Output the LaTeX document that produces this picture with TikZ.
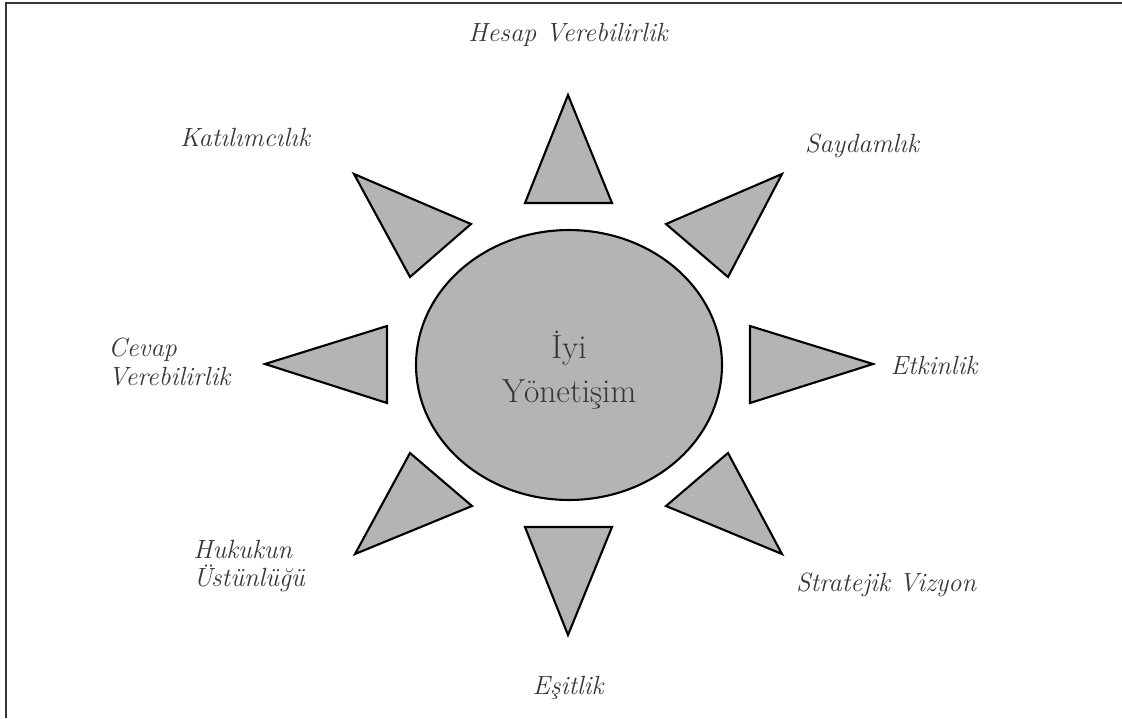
\documentclass[tikz,border=0pt]{standalone}
\usepackage{fontspec}
\usepackage{xcolor}
\usepackage{tikz}
\usetikzlibrary{shapes.geometric}
\definecolor{rayfill}{RGB}{180,180,180}
\definecolor{inkgray}{RGB}{55,55,55}
\tikzset{
  ray/.style={draw=black,fill=rayfill,line width=1.2pt,line join=miter},
  lbl/.style={text=inkgray,font=\fontsize{15}{16}\selectfont\itshape,inner sep=0pt},
  lblleft/.style={lbl,align=left,anchor=west}
}

\begin{document}
\begin{tikzpicture}[x=0.02cm,y=-0.02cm]
    \useasboundingbox(0,0)rectangle(1122,718);
    % frame
    \coordinate(tl)at(6,3);\coordinate(tr)at(1122,3);\coordinate(bl)at(6,718);
    \draw[inkgray,line width=1.1pt](tr)--(tl)--(bl);

    % centre
    \node[ellipse,draw=black,fill=rayfill,line width=1.2pt,minimum width=6.12cm,minimum height=5.4cm,inner sep=0pt](sun)at(569,365){};
    \node[text=inkgray,font=\fontsize{19}{25}\selectfont,align=center](name)at(569,370){İyi\\Yönetişim};

    % rays
    \draw[ray](568,95)--(612,203)--(525,203)--cycle;
    \draw[ray](782,174)--(728,277)--(666,224)--cycle;
    \draw[ray](873,364)--(750,403)--(750,326)--cycle;
    \draw[ray](782,554)--(666,506)--(728,453)--cycle;
    \draw[ray](568,635)--(525,527)--(612,527)--cycle;
    \draw[ray](355,554)--(410,453)--(472,506)--cycle;
    \draw[ray](265,364)--(387,326)--(387,403)--cycle;
    \draw[ray](354,174)--(471,224)--(410,277)--cycle;

    % labels
    \node[lbl](hesap)at(568,35){Hesap Verebilirlik};
    \node[lbl](saydam)at(862,146){Saydamlık};
    \node[lbl](etkin)at(934,365){Etkinlik};
    \node[lbl](strat)at(886,585){Stratejik Vizyon};
    \node[lbl](esit)at(568,688){Eşitlik};
    \node[lblleft](hukuk)at(193,566){Hukukun\\Üstünlüğü};
    \node[lblleft](cevap)at(108,362){Cevap\\Verebilirlik};
    \node[lbl](katil)at(245,137){Katılımcılık};
\end{tikzpicture}
\end{document}
